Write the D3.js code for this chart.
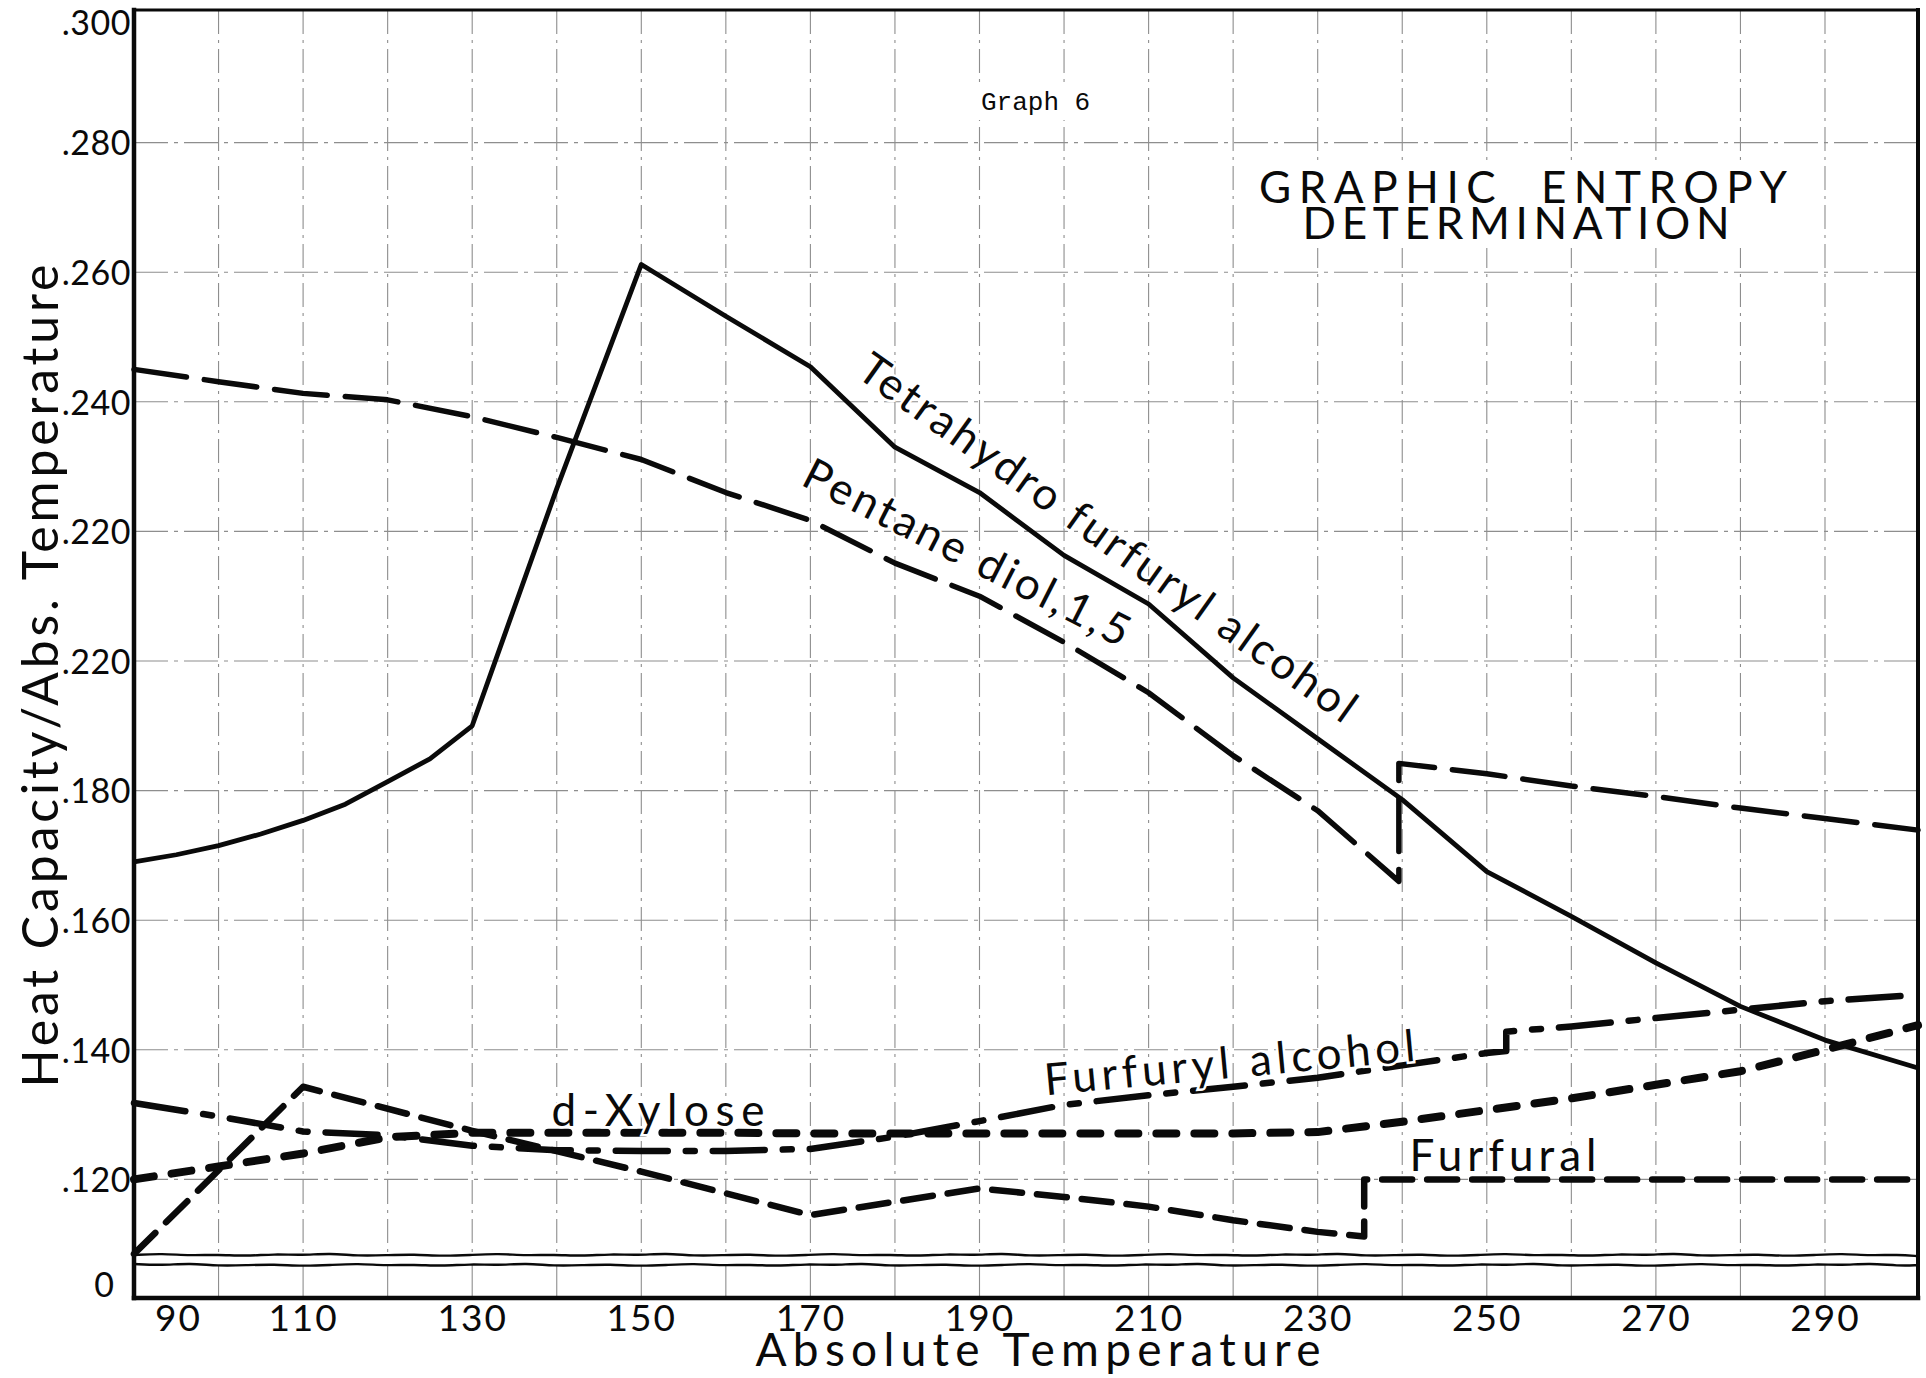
<!DOCTYPE html>
<html>
<head>
<meta charset="utf-8">
<script src="https://cdn.jsdelivr.net/npm/d3@7"></script>
<style>
  html, body { margin: 0; padding: 0; background: #fff; }
  svg { display: block; font-family: Lato, "Open Sans", "DejaVu Sans", sans-serif; }
  text { fill: #0a0a0a; white-space: pre; }
</style>
</head>
<body>
<svg id="chart" width="1926" height="1378"></svg>
<script>
// ---- Readings: absolute temperature (K) vs. heat capacity / abs. temperature ----
const tetraT = [90, 95, 100, 105, 110, 115, 120, 125, 130, 140, 150, 160, 170, 180, 190, 200, 210, 220, 230, 240, 250, 260, 270, 280, 290, 301];
const tetraV = [0.1690, 0.1701, 0.1715, 0.1733, 0.1754, 0.1779, 0.1814, 0.1849, 0.1900, 0.2266, 0.2612, 0.2532, 0.2454, 0.2330, 0.2260, 0.2163, 0.2088, 0.1974, 0.1880, 0.1786, 0.1675, 0.1606, 0.1534, 0.1467, 0.1415, 0.1372];

const pentaneT = [90, 100, 110, 120, 130, 140, 150, 160, 170, 180, 190, 200, 210, 220, 230, 239.6, 239.6, 250, 260, 270, 280, 290, 301];
const pentaneV = [0.2450, 0.2431, 0.2413, 0.2403, 0.2377, 0.2345, 0.2311, 0.2260, 0.2217, 0.2151, 0.2100, 0.2029, 0.1951, 0.1854, 0.1769, 0.1660, 0.1842, 0.1826, 0.1807, 0.1791, 0.1773, 0.1757, 0.1739];

const furfurylT = [90, 100, 110, 120, 130, 140, 150, 160, 170, 180, 190, 200, 210, 220, 230, 240, 250, 252.3, 252.3, 260, 270, 280, 290, 301];
const furfurylV = [0.1318, 0.1297, 0.1274, 0.1268, 0.1252, 0.1245, 0.1244, 0.1244, 0.1247, 0.1266, 0.1290, 0.1315, 0.1330, 0.1343, 0.1357, 0.1376, 0.1395, 0.1398, 0.1428, 0.1436, 0.1449, 0.1462, 0.1475, 0.1485];

const xyloseT = [90, 100, 110, 120, 130, 140, 150, 160, 170, 180, 190, 200, 210, 220, 230, 240, 250, 260, 270, 280, 290, 301];
const xyloseV = [0.1200, 0.1220, 0.1240, 0.1265, 0.1272, 0.1272, 0.1272, 0.1272, 0.1271, 0.1271, 0.1271, 0.1271, 0.1271, 0.1271, 0.1273, 0.1289, 0.1307, 0.1325, 0.1346, 0.1367, 0.1400, 0.1438];

const furfuralT = [90, 110, 130, 150, 170, 190, 200, 210, 220, 230, 235.5, 235.5, 250, 270, 290, 301];
const furfuralV = [0.1085, 0.1343, 0.1275, 0.1212, 0.1145, 0.1186, 0.1173, 0.1158, 0.1137, 0.1119, 0.1112, 0.1200, 0.1200, 0.1200, 0.1200, 0.1200];

// ---- Axis ticks ----
const xTickValues = [90, 110, 130, 150, 170, 190, 210, 230, 250, 270, 290];
const xTickLabels = ["90", "110", "130", "150", "170", "190", "210", "230", "250", "270", "290"];
const yTickValues = [0.30, 0.28, 0.26, 0.24, 0.22, 0.20, 0.18, 0.16, 0.14, 0.12];
const yTickLabels = [".300", ".280", ".260", ".240", ".220", ".220", ".180", ".160", ".140", ".120"];
const xGridValues = [100, 110, 120, 130, 140, 150, 160, 170, 180, 190, 200, 210, 220, 230, 240, 250, 260, 270, 280, 290];
const yGridValues = [0.28, 0.26, 0.24, 0.22, 0.20, 0.18, 0.16, 0.14, 0.12];

// ---- Layout ----
const plot = { left: 134, right: 1918, top: 10, bottom: 1298 };
const breakY = [1255, 1265];   // axis-break band near the base

const x = d3.scaleLinear().domain([90, 301]).range([plot.left, plot.right]);
const y = d3.scaleLinear().domain([0.1, 0.3]).range([1309, 13]);

const svg = d3.select("#chart");
const ink = "#0a0a0a";
const letterFont = "Lato, 'Open Sans', sans-serif";

// ---- Grid ----
const grid = svg.append("g").attr("stroke", "#444").attr("stroke-width", 1.1).attr("opacity", 0.6);
grid.selectAll("line.gx").data(xGridValues).join("line")
  .attr("x1", d => x(d)).attr("x2", d => x(d))
  .attr("y1", plot.top).attr("y2", breakY[0])
  .attr("stroke-dasharray", "24,6,3,6");
grid.selectAll("line.gxb").data(xGridValues).join("line")
  .attr("x1", d => x(d)).attr("x2", d => x(d))
  .attr("y1", breakY[1]).attr("y2", plot.bottom);
grid.selectAll("line.gy").data(yGridValues).join("line")
  .attr("x1", plot.left).attr("x2", plot.right)
  .attr("y1", d => y(d)).attr("y2", d => y(d))
  .attr("stroke-dasharray", "34,6,4,6");

// Grid is left blank behind the lettered headings
svg.append("rect").attr("x", 1252).attr("y", 160).attr("width", 545).attr("height", 88).attr("fill", "#fff");
svg.append("rect").attr("x", 968).attr("y", 82).attr("width", 134).attr("height", 38).attr("fill", "#fff");

// ---- Axis-break wiggles ----
const wiggle = [0, -1.4, 0.6, -0.5, 1.2, -1.0, 0.3, -1.8, 0.9, 0.2, -0.7, 1.1];
breakY.forEach((by, k) => {
  const xs = d3.range(plot.left, plot.right, 28).concat([plot.right]);
  const pts = xs.map((px, i) => [px, by + wiggle[(i + k * 5) % wiggle.length]]);
  svg.append("path").attr("d", d3.line().curve(d3.curveBasis)(pts))
    .attr("fill", "none").attr("stroke", ink).attr("stroke-width", 2.4);
});

// ---- Frame ----
const frame = svg.append("g").attr("stroke", ink).attr("stroke-linecap", "square");
frame.append("line").attr("x1", plot.left).attr("x2", plot.right).attr("y1", plot.top).attr("y2", plot.top).attr("stroke-width", 3);
frame.append("line").attr("x1", plot.left).attr("x2", plot.right).attr("y1", plot.bottom).attr("y2", plot.bottom).attr("stroke-width", 4.5);
frame.append("line").attr("x1", plot.left).attr("x2", plot.left).attr("y1", plot.top).attr("y2", plot.bottom).attr("stroke-width", 4.5);
frame.append("line").attr("x1", plot.right).attr("x2", plot.right).attr("y1", plot.top).attr("y2", plot.bottom).attr("stroke-width", 4);

// ---- Series ----
const line = d3.line().x(d => x(d[0])).y(d => y(d[1]));
function series(ts, vs, width, dash) {
  const p = svg.append("path")
    .attr("d", line(ts.map((t, i) => [t, vs[i]])))
    .attr("fill", "none").attr("stroke", ink)
    .attr("stroke-width", width)
    .attr("stroke-linejoin", "round");
  if (dash) p.attr("stroke-dasharray", dash).attr("stroke-linecap", "round");
  return p;
}
series(tetraT, tetraV, 4.8, null);
series(pentaneT, pentaneV, 5.5, "53,18");
series(furfuralT, furfuralV, 6.5, "30,15");
series(xyloseT, xyloseV, 8, "20,18");
series(furfurylT, furfurylV, 6.5, "52,18,9,18");

// ---- Axes ----
const yAxis = svg.append("g").attr("transform", `translate(${plot.left},0)`)
  .call(d3.axisLeft(y).tickValues(yTickValues).tickFormat((d, i) => yTickLabels[i]).tickSize(0).tickPadding(3));
yAxis.select(".domain").remove();
yAxis.selectAll("text").attr("font-size", 34).attr("font-family", letterFont)
  .attr("font-weight", 400).attr("letter-spacing", 0.5).attr("fill", ink)
  .attr("dy", (d, i) => i === 0 ? "0.62em" : "0.36em");
svg.append("text").attr("x", plot.left - 20).attr("y", plot.bottom - 1)
  .attr("text-anchor", "end").attr("font-size", 34).attr("font-weight", 400).text("0");

const xAxis = svg.append("g").attr("transform", `translate(0,${plot.bottom})`)
  .call(d3.axisBottom(x).tickValues(xTickValues).tickFormat((d, i) => xTickLabels[i]).tickSize(0));
xAxis.select(".domain").remove();
xAxis.selectAll("text").attr("font-size", 37).attr("font-family", letterFont)
  .attr("font-weight", 400).attr("letter-spacing", 2).attr("fill", ink)
  .attr("y", 33).attr("dy", 0)
  .attr("dx", (d, i) => i === 0 ? 44 : 0);

// ---- Axis titles ----
svg.append("text").attr("transform", "translate(58,676) rotate(-90)")
  .attr("text-anchor", "middle").attr("font-size", 50).attr("font-weight", 400)
  .attr("textLength", 823).attr("lengthAdjust", "spacing")
  .text("Heat Capacity/Abs. Temperature");
svg.append("text").attr("x", 1038).attr("y", 1366)
  .attr("text-anchor", "middle").attr("font-size", 46).attr("font-weight", 400)
  .attr("textLength", 565).attr("lengthAdjust", "spacing")
  .text("Absolute Temperature");

// ---- Titles ----
svg.append("text").attr("x", 1523).attr("y", 203)
  .attr("text-anchor", "middle").attr("font-size", 44).attr("font-weight", 400)
  .attr("textLength", 528).attr("lengthAdjust", "spacing")
  .text("GRAPHIC\u00a0\u00a0ENTROPY");
svg.append("text").attr("x", 1516).attr("y", 239)
  .attr("text-anchor", "middle").attr("font-size", 44).attr("font-weight", 400)
  .attr("textLength", 427).attr("lengthAdjust", "spacing")
  .text("DETERMINATION");
svg.append("text").attr("x", 981).attr("y", 110)
  .attr("font-family", "'Liberation Mono', 'DejaVu Sans Mono', monospace").attr("font-size", 26)
  .text("Graph 6");

// ---- Curve labels ----
function curveLabel(txt, cx, cy, angle, len) {
  svg.append("text").attr("transform", `translate(${cx},${cy}) rotate(${angle})`)
    .attr("text-anchor", "middle").attr("font-size", 44).attr("font-weight", 400)
    .attr("textLength", len).attr("lengthAdjust", "spacing")
    .attr("stroke", "#fff").attr("stroke-width", 5).attr("paint-order", "stroke")
    .text(txt);
}
curveLabel("Tetrahydro furfuryl alcohol", 1099, 550, 35.5, 600);
curveLabel("Pentane diol,1,5", 960, 566, 27, 360);
curveLabel("Furfuryl alcohol", 1231, 1078, -5.3, 372);
curveLabel("d-Xylose", 658, 1126, 0, 213);
curveLabel("Furfural", 1503, 1171, 0, 187);
</script>
</body>
</html>
